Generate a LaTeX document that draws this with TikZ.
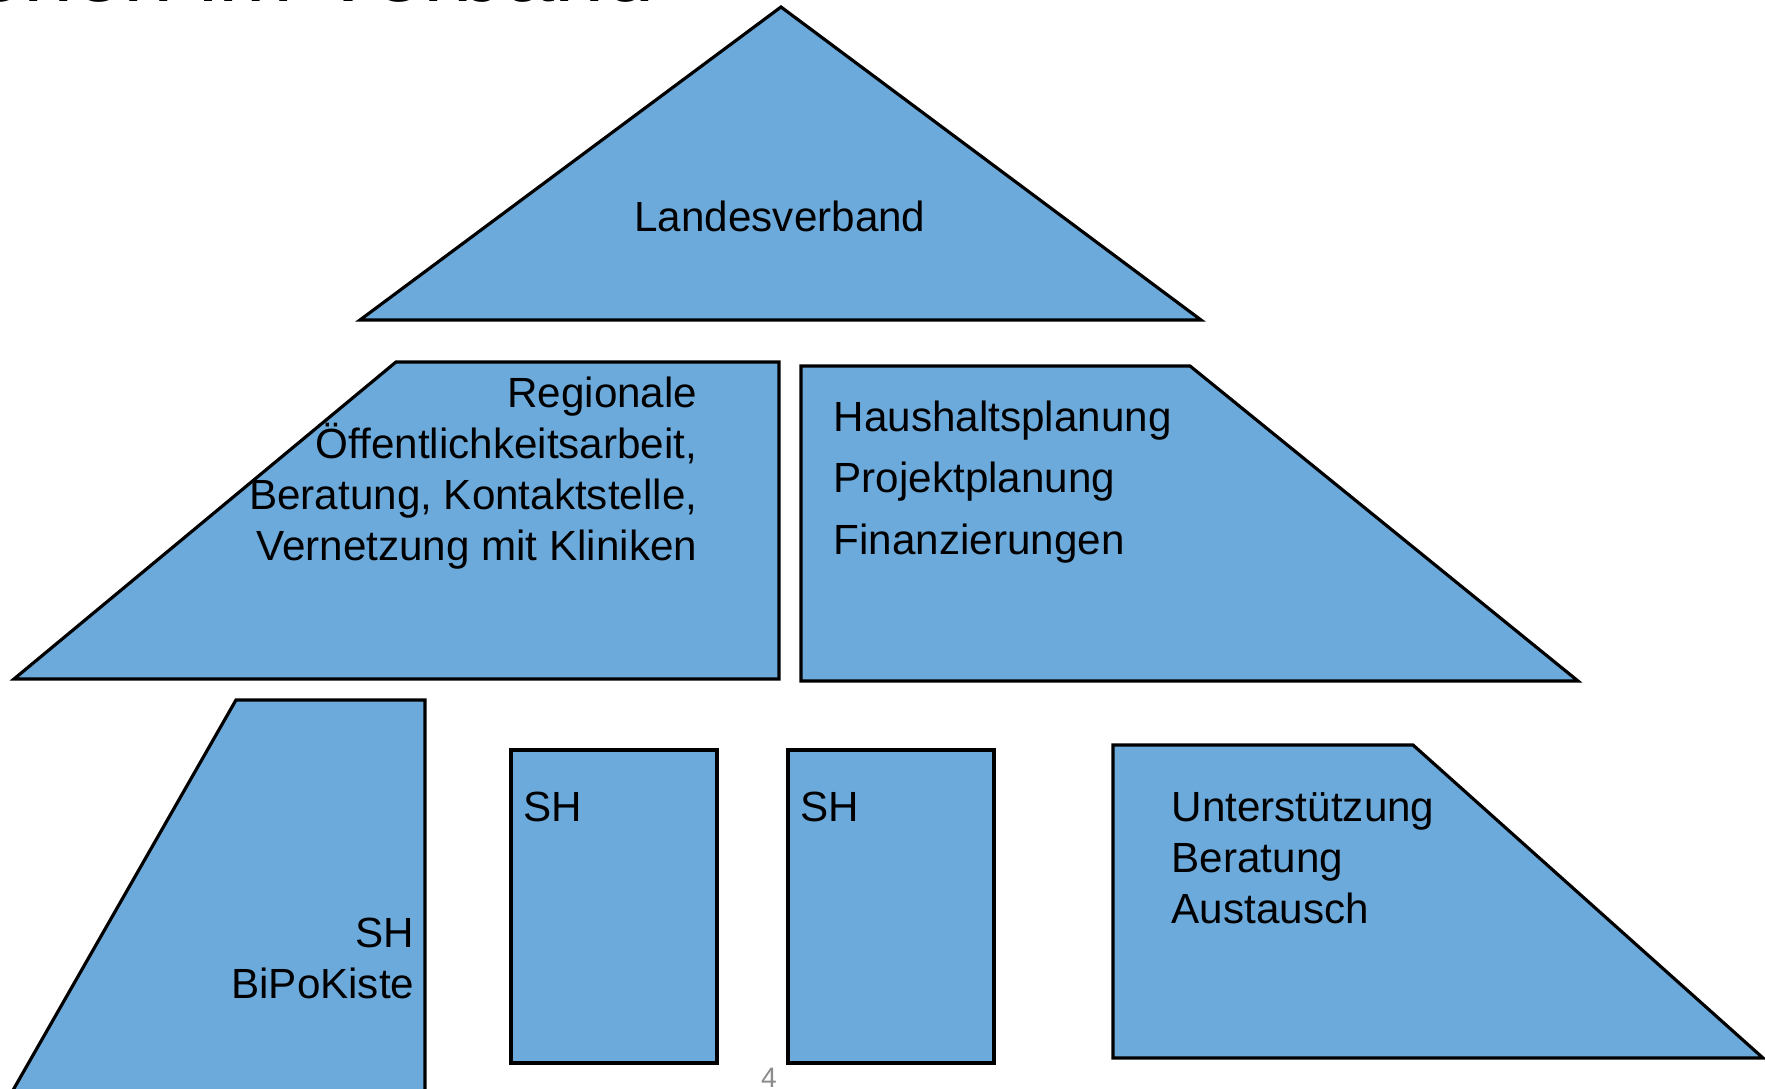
\documentclass[tikz,border=0pt]{standalone}
\usepackage{fontspec}
\setmainfont{Liberation Sans}
\usetikzlibrary{positioning}
\definecolor{levelblue}{RGB}{108,170,219}
\definecolor{pagegray}{RGB}{140,140,140}

\begin{document}
\begin{tikzpicture}[
  x=0.01cm, y=-0.01cm,
  level/.style={fill=levelblue, draw=black, line width=0.9pt, line join=miter},
  label/.style={inner sep=0pt, font=\fontsize{12}{14.5}\selectfont},
  wide/.style={inner sep=0pt, font=\fontsize{12}{17.4}\selectfont}
]
  \useasboundingbox (0,0) rectangle (1765,1089);
  \clip (0,0) rectangle (1765,1089);
  \node[anchor=base east, inner sep=0pt, font=\fontsize{25.6}{30}\selectfont] (title) at (655,2) {Ebenen im Verband};
  % top level
  \draw[level] (781,7) -- (1201,320) -- (360,320) -- cycle;
  \node[label] (lv) at (780,216) {Landesverband};
  % middle level
  \draw[level] (396,362) -- (779,362) -- (779,679) -- (14,679) -- cycle;
  \draw[level] (801,366) -- (1190,366) -- (1578,681) -- (801,681) -- cycle;
  \node[label, align=right, anchor=east] (reg) at (698,473)
    {Regionale\\Öffentlichkeitsarbeit,\\Beratung, Kontaktstelle,\\Vernetzung mit Kliniken};
  \node[wide, align=left, anchor=west] (plan) at (833,482)
    {Haushaltsplanung\\Projektplanung\\Finanzierungen};
  % bottom level
  \draw[level] (236,700) -- (425,700) -- (425,1120) -- (-4,1120) -- cycle;
  \node[label, align=right, anchor=east] (bipo) at (415,958) {SH\\BiPoKiste};
  \foreach \x/\name in {511/sha, 788/shb} {
    \draw[level] (\x,750) rectangle +(206,313);
    \node[label, anchor=west] (\name) at (\x+12,807) {SH};
  }
  \draw[level] (1113,745) -- (1413,745) -- (1763,1058) -- (1113,1058) -- cycle;
  \node[label, align=left, anchor=west] (hilfe) at (1171,858)
    {Unterstützung\\Beratung\\Austausch};
  \node[inner sep=0pt, text=pagegray, font=\fontsize{8}{9}\selectfont] (page) at (769,1078) {4};
\end{tikzpicture}
\end{document}
